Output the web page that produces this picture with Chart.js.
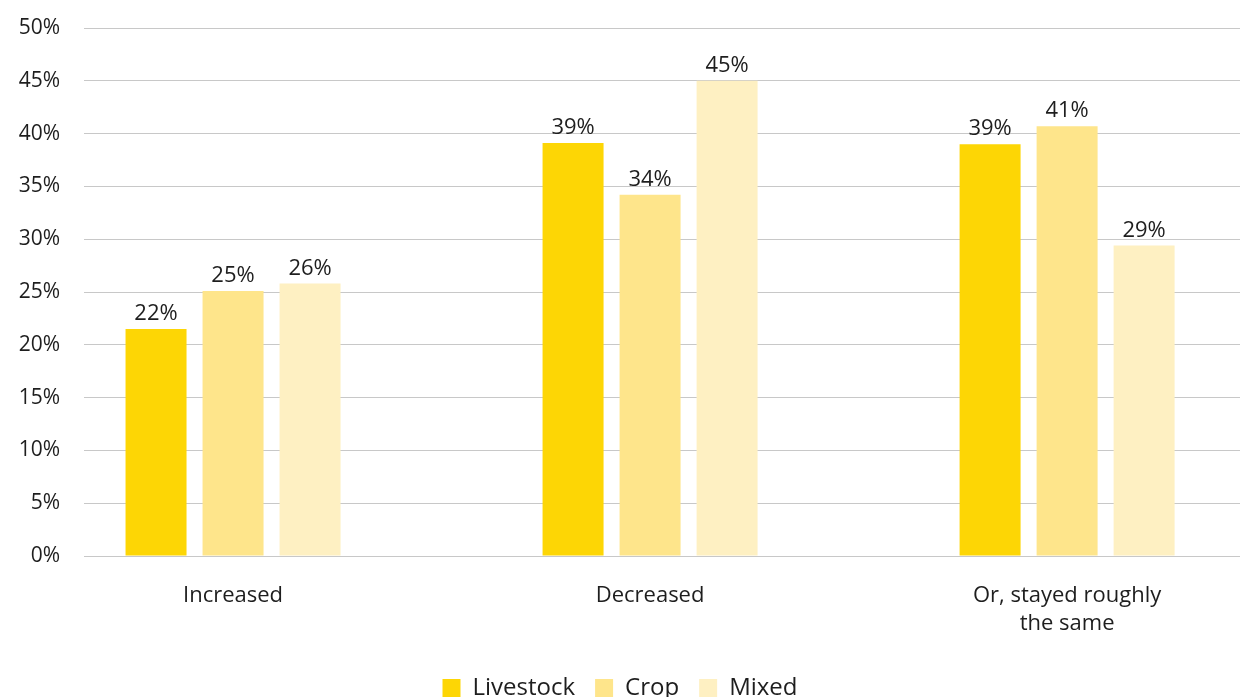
<!DOCTYPE html>
<html>
<head>
<meta charset="utf-8">
<title>Change by farm type</title>
<script src="https://cdn.jsdelivr.net/npm/chart.js@4/dist/chart.umd.min.js"></script>
<style>
  html, body { margin: 0; padding: 0; background: #ffffff; overflow: hidden; }
  #wrap { position: relative; width: 1240px; height: 710px; }
</style>
</head>
<body>
<div id="wrap"><canvas id="chart"></canvas></div>
<script>
// Response categories along the x axis
const categories = ['Increased', 'Decreased', ['Or, stayed roughly', 'the same']];

// Share of respondents per farm type (%)
const livestock = [21.5, 39.1, 39.0];
const crop      = [25.1, 34.2, 40.7];
const mixed     = [25.8, 45.0, 29.4];

const seriesNames = ['Livestock', 'Crop', 'Mixed'];
const seriesColors = ['#FDD605', '#FEE58B', '#FEF0C2'];

// y-axis ticks
const yTickValues = [0, 5, 10, 15, 20, 25, 30, 35, 40, 45, 50];

const FONT = '"Open Sans", "DejaVu Sans", sans-serif';
const TEXT = '#1e1e1e';

// Writes the rounded percentage above each bar
const barValueLabels = {
  id: 'barValueLabels',
  afterDatasetsDraw(chart) {
    const ctx = chart.ctx;
    ctx.save();
    ctx.font = '22px ' + FONT;
    ctx.fillStyle = TEXT;
    ctx.textAlign = 'center';
    ctx.textBaseline = 'alphabetic';
    chart.data.datasets.forEach((ds, di) => {
      const meta = chart.getDatasetMeta(di);
      meta.data.forEach((bar, i) => {
        ctx.fillText(Math.round(ds.data[i]) + '%', bar.x, bar.y - 9);
      });
    });
    ctx.restore();
  }
};

new Chart(document.getElementById('chart'), {
  type: 'bar',
  data: {
    labels: categories,
    datasets: [livestock, crop, mixed].map((values, i) => ({
      label: seriesNames[i],
      data: values,
      backgroundColor: seriesColors[i],
      borderWidth: 0,
      categoryPercentage: 0.554,
      barPercentage: 0.792
    }))
  },
  options: {
    responsive: true,
    maintainAspectRatio: false,
    animation: false,
    layout: { padding: { top: 28, right: 0, bottom: 0, left: 0 } },
    plugins: {
      tooltip: { enabled: false },
      legend: {
        position: 'bottom',
        labels: {
          font: { family: FONT, size: 24 },
          color: TEXT,
          boxWidth: 18,
          boxHeight: 18,
          padding: 20
        }
      }
    },
    scales: {
      x: {
        grid: { display: false, drawTicks: false },
        border: { display: false },
        ticks: {
          color: TEXT,
          font: { family: FONT, size: 22, lineHeight: 1.27 },
          padding: 26,
          maxRotation: 0,
          autoSkip: false
        },
        // spread the three groups wider than the plot area
        afterBuildTicks(scale) {
          scale._startValue = -0.3574;
          scale._valueRange = 2.772;
        },
        afterFit(scale) { scale.height = 100; }
      },
      y: {
        min: 0,
        max: 50,
        afterBuildTicks(scale) {
          scale.ticks = yTickValues.map(v => ({ value: v }));
        },
        afterFit(scale) {
          scale.width = 84;
          scale.paddingTop = 0;
          scale.paddingBottom = 0;
        },
        grid: { color: '#C8C8C8', lineWidth: 1, drawTicks: false },
        border: { display: false },
        ticks: {
          color: TEXT,
          font: { family: FONT, size: 21 },
          padding: 24,
          callback: v => v + '%'
        }
      }
    }
  },
  plugins: [barValueLabels]
});
</script>
</body>
</html>
